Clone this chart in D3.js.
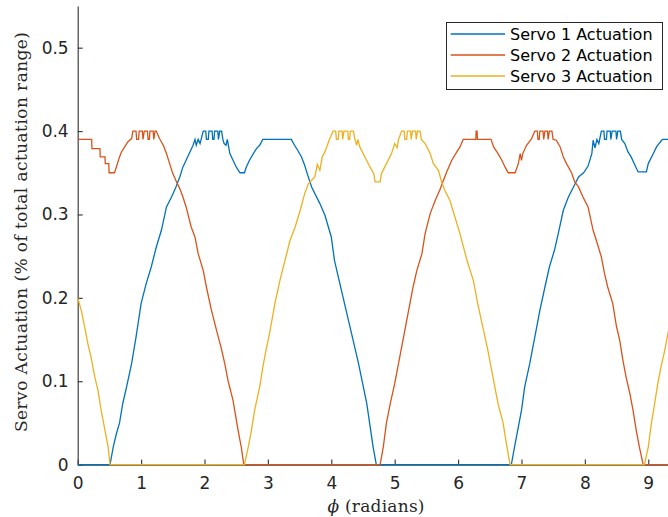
<!DOCTYPE html>
<html lang="en">
<head>
<meta charset="UTF-8">
<title>Servo Actuation vs phi</title>
<script src="https://d3js.org/d3.v7.min.js"></script>
<style>
  html, body { margin: 0; padding: 0; background: #fff; overflow: hidden; }
  .axis path, .axis line { stroke: #404040; stroke-width: 1.2; }
  .axis text { fill: #262626; font-family: "DejaVu Sans", sans-serif; font-size: 17px; }
  .lbl { fill: #262626; font-family: "DejaVu Serif", serif; font-size: 17px; }
  .leg text { fill: #000; font-family: "DejaVu Sans", sans-serif; font-size: 16px; }
</style>
</head>
<body>
<svg id="chart" width="668" height="517"></svg>
<script>
// tick values / labels
const phiTicks = [0, 1, 2, 3, 4, 5, 6, 7, 8, 9];
const valTicks = [0, 0.1, 0.2, 0.3, 0.4, 0.5];
const seriesNames = ["Servo 1 Actuation", "Servo 2 Actuation", "Servo 3 Actuation"];
const seriesColors = ["#0072BD", "#D95319", "#EDB120"];

// [phi (rad), actuation]
const servo1 = [
  [0,0],[0.51,0],[0.56,0.021],[0.61,0.037],[0.66,0.05],[0.71,0.073],[0.77,0.093],[0.85,0.121],
  [0.92,0.153],[1.0,0.193],[1.08,0.217],[1.16,0.237],[1.24,0.261],[1.32,0.281],[1.4,0.309],
  [1.48,0.321],[1.55,0.333],[1.61,0.345],[1.66,0.357],[1.71,0.365],[1.77,0.375],[1.82,0.383],
  [1.85,0.39],[1.87,0.383],[1.9,0.39],[1.93,0.385],[1.98,0.4],[2.02,0.4],[2.03,0.39],[2.06,0.39],
  [2.07,0.4],[2.12,0.4],[2.13,0.39],[2.15,0.39],[2.16,0.4],[2.21,0.4],[2.22,0.39],[2.24,0.4],
  [2.27,0.4],[2.29,0.39],[2.31,0.385],[2.34,0.383],[2.36,0.39],[2.4,0.373],[2.45,0.365],
  [2.5,0.357],[2.56,0.35],[2.63,0.35],[2.66,0.357],[2.71,0.365],[2.77,0.373],[2.82,0.379],
  [2.87,0.383],[2.92,0.39],[3.37,0.39],[3.42,0.383],[3.47,0.377],[3.53,0.369],[3.58,0.359],
  [3.62,0.349],[3.69,0.333],[3.82,0.313],[3.9,0.299],[4.0,0.273],[4.05,0.245],[4.16,0.209],
  [4.32,0.157],[4.43,0.121],[4.56,0.073],[4.66,0.021],[4.71,0],[6.84,0],[6.89,0.021],
  [6.95,0.045],[7.0,0.065],[7.05,0.093],[7.13,0.121],[7.21,0.153],[7.29,0.185],[7.37,0.213],
  [7.44,0.237],[7.52,0.257],[7.58,0.277],[7.66,0.305],[7.74,0.321],[7.82,0.333],[7.9,0.345],
  [7.98,0.35],[8.05,0.358],[8.11,0.373],[8.13,0.389],[8.16,0.38],[8.19,0.39],[8.22,0.385],
  [8.26,0.4],[8.3,0.4],[8.31,0.39],[8.34,0.39],[8.35,0.4],[8.4,0.4],[8.41,0.39],[8.43,0.4],
  [8.49,0.4],[8.5,0.39],[8.52,0.4],[8.56,0.4],[8.58,0.39],[8.63,0.385],[8.68,0.375],
  [8.73,0.369],[8.79,0.359],[8.84,0.351],[8.97,0.351],[9.0,0.361],[9.08,0.373],[9.13,0.381],
  [9.21,0.389],[9.23,0.39],[9.32,0.39]
];
const servo2 = [
  [0,0.39],[0.22,0.39],[0.225,0.379],[0.35,0.379],[0.355,0.369],[0.43,0.369],[0.435,0.361],
  [0.49,0.361],[0.495,0.35],[0.58,0.35],[0.61,0.357],[0.66,0.369],[0.69,0.375],[0.74,0.381],
  [0.79,0.387],[0.85,0.391],[0.87,0.4],[0.92,0.4],[0.93,0.39],[0.96,0.39],[0.97,0.4],[1.02,0.4],
  [1.03,0.39],[1.05,0.4],[1.1,0.4],[1.11,0.39],[1.13,0.39],[1.14,0.4],[1.19,0.4],[1.2,0.39],
  [1.22,0.4],[1.24,0.4],[1.29,0.391],[1.35,0.383],[1.4,0.373],[1.45,0.361],[1.5,0.349],
  [1.56,0.339],[1.61,0.331],[1.66,0.321],[1.71,0.309],[1.79,0.285],[1.85,0.273],[1.9,0.253],
  [1.98,0.233],[2.03,0.213],[2.11,0.185],[2.19,0.161],[2.26,0.141],[2.32,0.121],[2.37,0.101],
  [2.45,0.077],[2.53,0.041],[2.58,0.021],[2.62,0],[4.77,0],[4.82,0.021],[4.87,0.05],
  [4.93,0.073],[5.0,0.097],[5.06,0.121],[5.14,0.153],[5.21,0.181],[5.29,0.213],[5.35,0.233],
  [5.43,0.253],[5.48,0.277],[5.56,0.301],[5.64,0.317],[5.71,0.329],[5.77,0.341],[5.82,0.351],
  [5.9,0.365],[5.98,0.375],[6.03,0.381],[6.08,0.39],[6.28,0.39],[6.285,0.4],[6.3,0.4],
  [6.305,0.39],[6.52,0.39],[6.56,0.381],[6.63,0.373],[6.69,0.365],[6.74,0.357],[6.79,0.35],
  [6.9,0.35],[6.95,0.361],[6.98,0.373],[7.0,0.365],[7.02,0.373],[7.08,0.383],[7.16,0.391],
  [7.21,0.4],[7.25,0.4],[7.26,0.39],[7.28,0.39],[7.29,0.4],[7.34,0.4],[7.35,0.39],[7.37,0.4],
  [7.41,0.4],[7.42,0.39],[7.44,0.4],[7.48,0.4],[7.5,0.39],[7.55,0.389],[7.61,0.381],
  [7.66,0.369],[7.71,0.361],[7.79,0.35],[7.84,0.339],[7.9,0.333],[7.97,0.321],[8.05,0.309],
  [8.13,0.281],[8.18,0.269],[8.26,0.249],[8.31,0.229],[8.36,0.213],[8.44,0.193],[8.5,0.165],
  [8.55,0.149],[8.6,0.125],[8.65,0.105],[8.71,0.085],[8.76,0.065],[8.81,0.041],[8.86,0.021],
  [8.92,0],[9.32,0]
];
const servo3 = [
  [0,0.2],[0.057,0.185],[0.11,0.165],[0.16,0.145],[0.21,0.129],[0.27,0.105],[0.32,0.089],
  [0.37,0.065],[0.43,0.041],[0.48,0.021],[0.51,0],[2.63,0],[2.69,0.021],[2.74,0.041],
  [2.79,0.065],[2.87,0.093],[2.92,0.117],[2.97,0.137],[3.03,0.159],[3.11,0.193],[3.19,0.221],
  [3.27,0.245],[3.35,0.269],[3.43,0.285],[3.51,0.305],[3.58,0.325],[3.64,0.337],[3.74,0.345],
  [3.78,0.36],[3.82,0.353],[3.86,0.37],[3.9,0.375],[3.97,0.39],[4.03,0.4],[4.07,0.4],
  [4.08,0.39],[4.11,0.39],[4.12,0.4],[4.17,0.4],[4.18,0.39],[4.2,0.4],[4.26,0.4],[4.27,0.39],
  [4.29,0.39],[4.3,0.4],[4.35,0.4],[4.37,0.391],[4.4,0.383],[4.42,0.39],[4.45,0.381],
  [4.53,0.369],[4.61,0.357],[4.67,0.349],[4.69,0.339],[4.77,0.339],[4.79,0.349],[4.87,0.361],
  [4.95,0.373],[5.0,0.385],[5.04,0.38],[5.06,0.39],[5.11,0.4],[5.15,0.4],[5.16,0.39],
  [5.19,0.39],[5.2,0.4],[5.25,0.4],[5.26,0.39],[5.28,0.4],[5.33,0.4],[5.34,0.39],[5.36,0.4],
  [5.4,0.4],[5.42,0.39],[5.48,0.385],[5.56,0.373],[5.61,0.361],[5.69,0.353],[5.74,0.339],
  [5.79,0.329],[5.87,0.317],[5.95,0.297],[6.03,0.277],[6.14,0.245],[6.24,0.221],[6.31,0.193],
  [6.39,0.165],[6.47,0.137],[6.55,0.105],[6.63,0.073],[6.71,0.05],[6.76,0.026],[6.82,0],
  [8.94,0],[9.0,0.021],[9.05,0.05],[9.1,0.073],[9.15,0.097],[9.2,0.117],[9.26,0.137],
  [9.32,0.161]
];
const allSeries = [servo1, servo2, servo3];

const margin = { left: 77.7, bottom: 464.6, top: 6 };
const svg = d3.select('#chart');

const x = d3.scaleLinear().domain([0, 3 * Math.PI]).range([margin.left, 675.2]);
const y = d3.scaleLinear().domain([0, 0.55]).range([margin.bottom, margin.top]);

// axes (ticks point inward, no box)
svg.append('g').attr('class', 'axis')
  .attr('transform', `translate(0,${margin.bottom})`)
  .call(d3.axisBottom(x).tickValues(phiTicks).tickSizeInner(-5).tickSizeOuter(0).tickPadding(12))
  .call(g => g.selectAll('text').attr('dy', '0.71em'));

svg.append('g').attr('class', 'axis')
  .attr('transform', `translate(${margin.left},0)`)
  .call(d3.axisLeft(y).tickValues(valTicks).tickFormat(d => d === 0 ? '0' : d3.format('.1f')(d))
    .tickSizeInner(-5).tickSizeOuter(0).tickPadding(9));

// series
const line = d3.line().x(d => x(d[0])).y(d => y(d[1]));
allSeries.forEach((s, i) => {
  svg.append('path')
    .attr('d', line(s))
    .attr('fill', 'none')
    .attr('stroke', seriesColors[i])
    .attr('stroke-width', 1.3)
    .attr('stroke-linejoin', 'miter');
});

// axis labels
svg.append('text').attr('class', 'lbl')
  .attr('text-anchor', 'middle')
  .attr('x', 376).attr('y', 512)
  .attr('textLength', 97).attr('lengthAdjust', 'spacing')
  .call(t => {
    t.append('tspan').attr('font-style', 'italic').text('ϕ');
    t.append('tspan').text(' (radians)');
  });

svg.append('text').attr('class', 'lbl')
  .attr('text-anchor', 'middle')
  .attr('transform', `translate(27,232) rotate(-90)`)
  .attr('textLength', 400).attr('lengthAdjust', 'spacing')
  .text('Servo Actuation (% of total actuation range)');

// legend
const leg = svg.append('g').attr('class', 'leg');
leg.append('rect')
  .attr('x', 446.5).attr('y', 22.5).attr('width', 216).attr('height', 67)
  .attr('fill', '#fff').attr('stroke', '#262626').attr('stroke-width', 1);
seriesNames.forEach((name, i) => {
  const ly = 34 + i * 21;
  leg.append('line')
    .attr('x1', 450.7).attr('x2', 505).attr('y1', ly).attr('y2', ly)
    .attr('stroke', seriesColors[i]).attr('stroke-width', 1.3);
  leg.append('text')
    .attr('x', 510).attr('y', ly).attr('dy', '0.35em')
    .text(name);
});
</script>
</body>
</html>
